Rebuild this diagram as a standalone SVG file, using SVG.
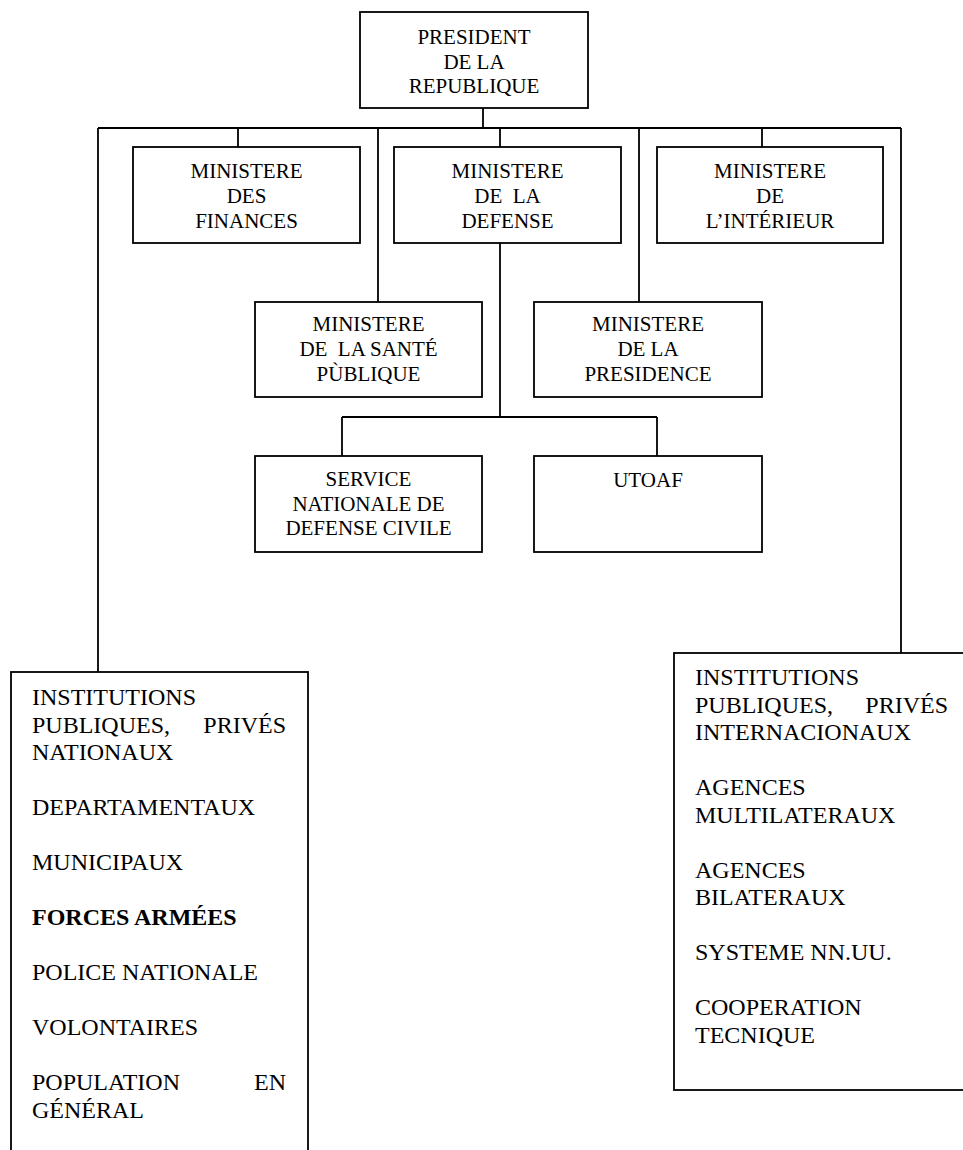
<svg xmlns="http://www.w3.org/2000/svg" width="963" height="1150" viewBox="0 0 963 1150">
<style>
.bg{fill:#fff}
.box{fill:#fff;stroke:#000;stroke-width:1.8}
.ln{fill:none;stroke:#000;stroke-width:1.8}
.t{font-family:"Liberation Serif","Times New Roman",serif;font-size:21px;fill:#000;text-anchor:middle}
.b{font-family:"Liberation Serif","Times New Roman",serif;font-size:24px;fill:#000}
.bold{font-weight:bold}
</style>
<rect class="bg" x="0" y="0" width="963" height="1150"/>
<g id="connectors">
<path class="ln" d="M483,108V128M98,128H901M98,128V672M901,128V653M238,128V147M500,128V147M762,128V147M378,128V302M639,128V302M500,243V417M342,417H657M342,417V456M657,417V456"/>
</g>
<g id="president">
<rect class="box" x="360" y="12" width="228" height="96"/>
<text class="t" x="474" y="44">PRESIDENT</text>
<text class="t" x="474" y="68.5">DE LA</text>
<text class="t" x="474" y="93">REPUBLIQUE</text>
</g>
<g id="finances">
<rect class="box" x="133" y="147" width="227" height="96"/>
<text class="t" x="246.5" y="178">MINISTERE</text>
<text class="t" x="246.5" y="203">DES</text>
<text class="t" x="246.5" y="228">FINANCES</text>
</g>
<g id="defense">
<rect class="box" x="394" y="147" width="227" height="96"/>
<text class="t" x="507.5" y="178">MINISTERE</text>
<text class="t" x="507.5" y="203" xml:space="preserve">DE  LA</text>
<text class="t" x="507.5" y="228">DEFENSE</text>
</g>
<g id="interieur">
<rect class="box" x="657" y="147" width="226" height="96"/>
<text class="t" x="770" y="178">MINISTERE</text>
<text class="t" x="770" y="203">DE</text>
<text class="t" x="770" y="228">L’INTÉRIEUR</text>
</g>
<g id="sante">
<rect class="box" x="255" y="302" width="227" height="95"/>
<text class="t" x="368.5" y="331">MINISTERE</text>
<text class="t" x="368.5" y="356" xml:space="preserve">DE  LA SANTÉ</text>
<text class="t" x="368.5" y="381">PÙBLIQUE</text>
</g>
<g id="presidence">
<rect class="box" x="534" y="302" width="228" height="95"/>
<text class="t" x="648" y="331">MINISTERE</text>
<text class="t" x="648" y="356">DE LA</text>
<text class="t" x="648" y="381">PRESIDENCE</text>
</g>
<g id="service">
<rect class="box" x="255" y="456" width="227" height="96"/>
<text class="t" x="368.5" y="486">SERVICE</text>
<text class="t" x="368.5" y="510.5">NATIONALE DE</text>
<text class="t" x="368.5" y="535">DEFENSE CIVILE</text>
</g>
<g id="utoaf">
<rect class="box" x="534" y="456" width="228" height="96"/>
<text class="t" x="648" y="487">UTOAF</text>
</g>
<g id="nationaux">
<rect class="box" x="11" y="672" width="297" height="500"/>
<text class="b" x="32" y="705">INSTITUTIONS</text>
<text class="b" y="732.5"><tspan x="32">PUBLIQUES,</tspan><tspan x="286" text-anchor="end">PRIVÉS</tspan></text>
<text class="b" x="32" y="760">NATIONAUX</text>
<text class="b" x="32" y="815">DEPARTAMENTAUX</text>
<text class="b" x="32" y="870">MUNICIPAUX</text>
<text class="b bold" x="32" y="925">FORCES ARMÉES</text>
<text class="b" x="32" y="980">POLICE NATIONALE</text>
<text class="b" x="32" y="1035">VOLONTAIRES</text>
<text class="b" y="1090"><tspan x="32">POPULATION</tspan><tspan x="286" text-anchor="end">EN</tspan></text>
<text class="b" x="32" y="1117.5">GÉNÉRAL</text>
</g>
<g id="internacionaux">
<rect class="box" x="674" y="653" width="300" height="437"/>
<text class="b" x="695" y="685">INSTITUTIONS</text>
<text class="b" y="712.5"><tspan x="695">PUBLIQUES,</tspan><tspan x="948" text-anchor="end">PRIVÉS</tspan></text>
<text class="b" x="695" y="740">INTERNACIONAUX</text>
<text class="b" x="695" y="795">AGENCES</text>
<text class="b" x="695" y="822.5">MULTILATERAUX</text>
<text class="b" x="695" y="877.5">AGENCES</text>
<text class="b" x="695" y="905">BILATERAUX</text>
<text class="b" x="695" y="960">SYSTEME NN.UU.</text>
<text class="b" x="695" y="1015">COOPERATION</text>
<text class="b" x="695" y="1042.5">TECNIQUE</text>
</g>
</svg>
